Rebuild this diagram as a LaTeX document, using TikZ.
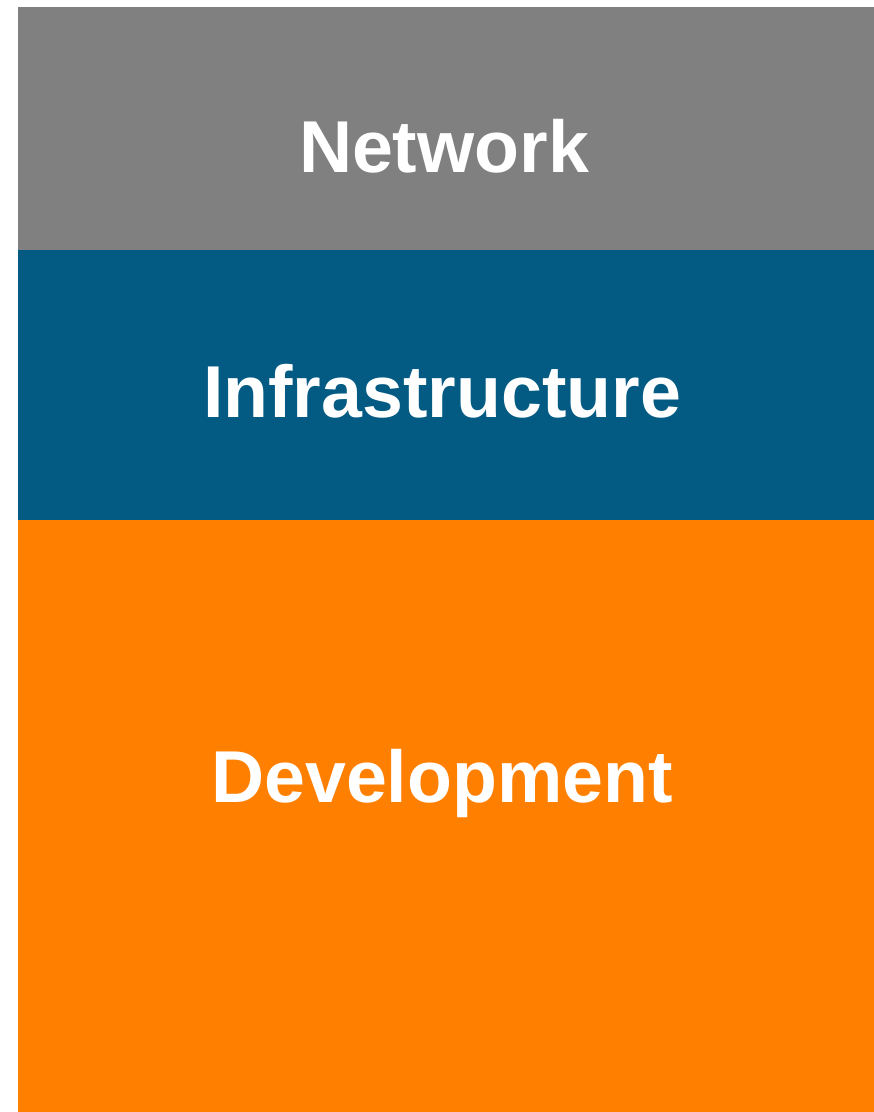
\documentclass[tikz,border=0pt]{standalone}
\usepackage{fontspec}
\setmainfont{Liberation Sans}
\definecolor{netgray}{HTML}{808080}
\definecolor{infrablue}{HTML}{035B84}
\definecolor{devorange}{HTML}{FF7F00}
\begin{document}
\begin{tikzpicture}[x=1pt,y=-1pt,
  layer/.style={draw=none,inner sep=0pt,outer sep=0pt,anchor=north west,minimum width=856pt},
  label/.style={text=white,font=\bfseries\fontsize{73.5}{88}\selectfont,anchor=base,inner sep=0pt}]
\useasboundingbox (0,0) rectangle (874,1112);
% stacked layers
\node[layer,fill=netgray,minimum height=243pt] (net) at (18,7) {};
\node[layer,fill=infrablue,minimum height=270pt] (infra) at (18,250) {};
\node[layer,fill=devorange,minimum height=592pt] (dev) at (18,520) {};
% layer titles
\node[label] (netlabel) at (444,172) {Network};
\node[label] (infralabel) at (442,417) {Infrastructure};
\node[label] (devlabel) at (442,802) {Development};
\end{tikzpicture}
\end{document}
